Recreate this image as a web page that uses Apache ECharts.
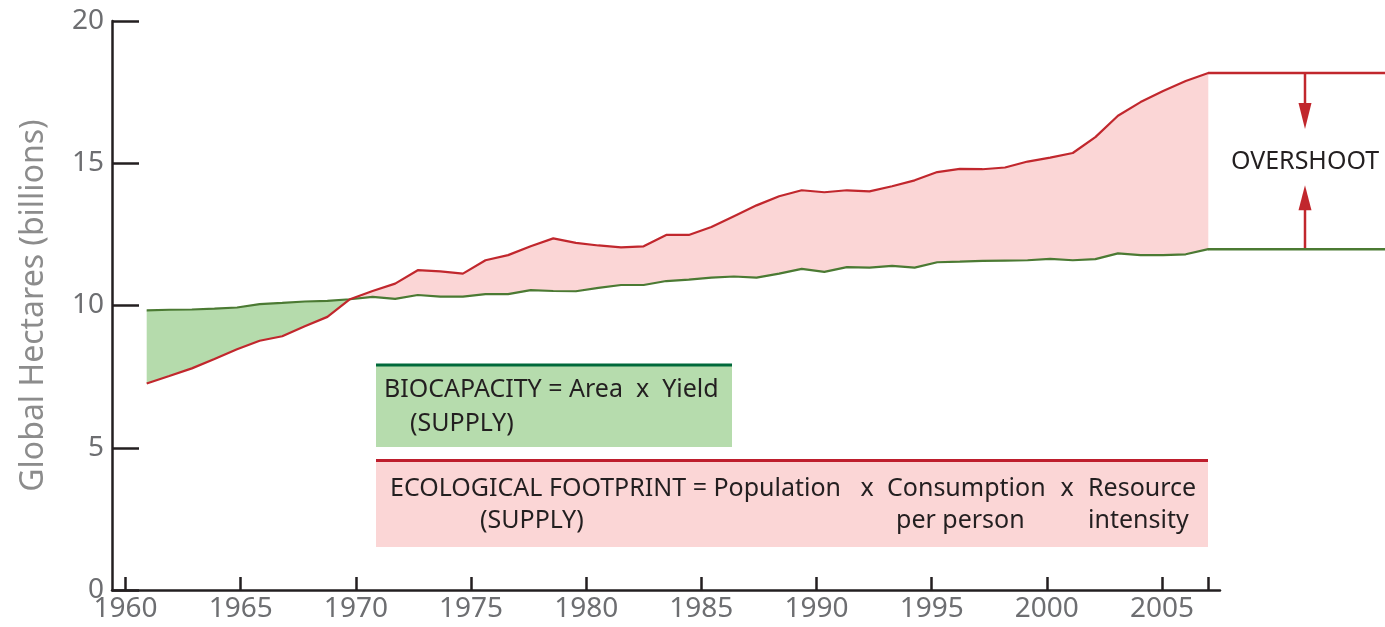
<!DOCTYPE html>
<html>
<head>
<meta charset="utf-8">
<title>Ecological Footprint and Biocapacity</title>
<script src="https://cdn.jsdelivr.net/npm/echarts@6/dist/echarts.min.js"></script>
<style>
  html, body { margin: 0; padding: 0; background: #fff; }
  #chart { width: 1385px; height: 627px; }
</style>
</head>
<body>
<div id="chart"></div>
<script>
const years = [
  1960, 1961, 1962, 1963, 1964, 1965, 1966, 1967, 1968, 1969,
  1970, 1971, 1972, 1973, 1974, 1975, 1976, 1977, 1978, 1979,
  1980, 1981, 1982, 1983, 1984, 1985, 1986, 1987, 1988, 1989,
  1990, 1991, 1992, 1993, 1994, 1995, 1996, 1997, 1998, 1999,
  2000, 2001, 2002, 2003, 2004, 2005, 2006, 2007
]
const biocapacity = [
  9.83, 9.85, 9.86, 9.89, 9.93, 10.05, 10.09, 10.14, 10.16, 10.22,
  10.30, 10.23, 10.37, 10.31, 10.31, 10.40, 10.40, 10.54, 10.51, 10.50,
  10.62, 10.72, 10.72, 10.86, 10.91, 10.98, 11.02, 10.98, 11.12, 11.29,
  11.18, 11.35, 11.33, 11.39, 11.33, 11.52, 11.54, 11.57, 11.58, 11.59,
  11.64, 11.59, 11.63, 11.83, 11.77, 11.77, 11.80, 11.98
]
const footprint = [
  7.26, 7.52, 7.79, 8.12, 8.46, 8.76, 8.92, 9.27, 9.60, 10.22,
  10.51, 10.77, 11.24, 11.20, 11.12, 11.59, 11.77, 12.08, 12.36, 12.20,
  12.11, 12.04, 12.08, 12.48, 12.48, 12.76, 13.14, 13.52, 13.84, 14.05,
  13.98, 14.05, 14.01, 14.19, 14.40, 14.69, 14.80, 14.79, 14.85, 15.06,
  15.20, 15.36, 15.92, 16.67, 17.15, 17.54, 17.89, 18.17
]
const xTicks = [1960, 1965, 1970, 1975, 1980, 1985, 1990, 1995, 2000, 2005, 2007]
const xLabels = [1960, 1965, 1970, 1975, 1980, 1985, 1990, 1995, 2000, 2005]

const RED = '#c1272d'
const GREEN = '#4b7a33'
const PINK = '#fbd6d6'
const LIGHTGREEN = '#b5dbac'
const INK = '#231f20'
const FONT = '"Noto Sans", "Open Sans", sans-serif'

const chart = echarts.init(document.getElementById('chart'))

const lastFp = footprint[footprint.length - 1]
const lastBio = biocapacity[biocapacity.length - 1]

const axisStyle = { color: INK, width: 2.5 }
const tickLabel = { color: '#6d6e71', fontSize: 28, fontFamily: FONT }

// fill between the two lines, green where supply is larger, pink where demand is
function gapFill(params, api) {
  if (params.dataIndex > 0) return null
  const runs = []
  let run = null
  for (let i = 0; i < years.length - 1; i++) {
    const over = footprint[i] + footprint[i + 1] > biocapacity[i] + biocapacity[i + 1]
    if (!run || run.over !== over) {
      run = { over: over, from: i, to: i + 1 }
      runs.push(run)
    } else {
      run.to = i + 1
    }
  }
  return {
    type: 'group',
    children: runs.map(r => {
      const pts = []
      for (let i = r.from; i <= r.to; i++) pts.push(api.coord([years[i], biocapacity[i]]))
      for (let i = r.to; i >= r.from; i--) pts.push(api.coord([years[i], footprint[i]]))
      return { type: 'polygon', shape: { points: pts }, style: { fill: r.over ? PINK : LIGHTGREEN } }
    })
  }
}

function overshootArrows(params, api) {
  const top = api.coord([api.value(0), api.value(1)])
  const bot = api.coord([api.value(0), api.value(2)])
  const x = top[0]
  const red = { stroke: RED, lineWidth: 2.5 }
  return {
    type: 'group',
    children: [
      { type: 'line', shape: { x1: x, y1: top[1], x2: x, y2: top[1] + 32 }, style: red },
      { type: 'polygon', shape: { points: [[x - 6.5, top[1] + 30], [x + 6.5, top[1] + 30], [x, top[1] + 56]] }, style: { fill: RED } },
      { type: 'line', shape: { x1: x, y1: bot[1], x2: x, y2: bot[1] - 40 }, style: red },
      { type: 'polygon', shape: { points: [[x - 6.5, bot[1] - 39], [x + 6.5, bot[1] - 39], [x, bot[1] - 64]] }, style: { fill: RED } },
      { type: 'text', x: x, y: top[1] + 89, style: { text: 'OVERSHOOT', font: '25px ' + FONT, fill: INK, align: 'center', verticalAlign: 'middle' } }
    ]
  }
}

function label(text, x, y, align) {
  return {
    type: 'text', x: x, y: y, z: 10,
    style: { text: text, font: '25px ' + FONT, fill: INK, align: align || 'left', verticalAlign: 'middle' }
  }
}

chart.setOption({
  animation: false,
  grid: [
    { left: 112, right: 165, top: 21, bottom: 37 },
    { left: 1208, right: 0, top: 21, bottom: 37 }
  ],
  xAxis: [{
    gridIndex: 0,
    type: 'value',
    min: 1959.41,
    max: 2007.52,
    axisLine: { lineStyle: axisStyle },
    axisTick: { inside: true, length: 13, customValues: xTicks, lineStyle: axisStyle },
    axisLabel: Object.assign({ customValues: xLabels, margin: 5, formatter: v => String(v) }, tickLabel),
    splitLine: { show: false }
  }, {
    // data axis: the reference's points sit slightly off its own ticks
    gridIndex: 0,
    type: 'value',
    min: 1958.464,
    max: 2007.518,
    show: false
  }, {
    gridIndex: 1,
    type: 'value',
    min: 0,
    max: 1,
    show: false
  }],
  yAxis: [{
    gridIndex: 0,
    type: 'value',
    min: 0,
    max: 20,
    interval: 5,
    name: 'Global Hectares (billions)',
    nameLocation: 'middle',
    nameGap: 62,
    nameRotate: 90,
    nameTextStyle: { fontSize: 32, color: '#8c8c8c', fontFamily: FONT },
    axisLine: { show: true, lineStyle: axisStyle },
    axisTick: { show: true, inside: true, length: 27, lineStyle: axisStyle },
    axisLabel: Object.assign({ margin: 8 }, tickLabel),
    splitLine: { show: false }
  }, {
    gridIndex: 1,
    type: 'value',
    min: 0,
    max: 20,
    show: false
  }],
  series: [{
    type: 'custom', xAxisIndex: 1, silent: true,
    data: years.map((y, i) => [y, biocapacity[i], footprint[i]]),
    encode: { x: 0, y: [1, 2] },
    renderItem: gapFill
  }, {
    name: 'Biocapacity', type: 'line', xAxisIndex: 1,
    data: years.map((y, i) => [y, biocapacity[i]]),
    symbol: 'none', lineStyle: { color: GREEN, width: 2.2 }
  }, {
    name: 'Ecological Footprint', type: 'line', xAxisIndex: 1,
    data: years.map((y, i) => [y, footprint[i]]),
    symbol: 'none', lineStyle: { color: RED, width: 2.2 }
  }, {
    type: 'line', xAxisIndex: 2, yAxisIndex: 1,
    data: [[0, lastFp], [1, lastFp]],
    symbol: 'none', lineStyle: { color: RED, width: 2.5 }
  }, {
    type: 'line', xAxisIndex: 2, yAxisIndex: 1,
    data: [[0, lastBio], [1, lastBio]],
    symbol: 'none', lineStyle: { color: GREEN, width: 2.5 }
  }, {
    type: 'custom', xAxisIndex: 2, yAxisIndex: 1,
    data: [[0.548, lastFp, lastBio]],
    encode: { x: 0, y: [1, 2] },
    renderItem: overshootArrows
  }],
  graphic: [
    { type: 'rect', shape: { x: 376, y: 365, width: 356, height: 82 }, style: { fill: '#b6dcad' } },
    { type: 'rect', shape: { x: 376, y: 363.5, width: 356, height: 3 }, style: { fill: '#00693a' } },
    label('BIOCAPACITY = Area  x  Yield', 384, 390),
    label('(SUPPLY)', 410, 424),
    { type: 'rect', shape: { x: 376, y: 461, width: 832, height: 86 }, style: { fill: PINK } },
    { type: 'rect', shape: { x: 376, y: 459, width: 832, height: 3 }, style: { fill: '#be1e2d' } },
    label('ECOLOGICAL FOOTPRINT = Population', 390, 489),
    label('x', 867, 489, 'center'),
    label('Consumption', 887, 489),
    label('x', 1067, 489, 'center'),
    label('Resource', 1088, 489),
    label('(SUPPLY)', 480, 521),
    label('per person', 896, 521),
    label('intensity', 1088, 521)
  ]
})
</script>
</body>
</html>
